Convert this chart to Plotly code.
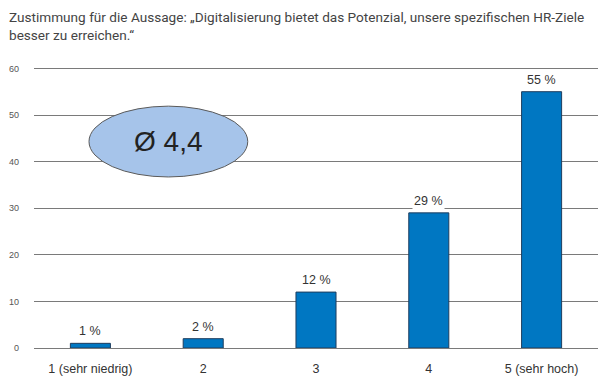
import plotly.graph_objects as go

categories = ["1 (sehr niedrig)", "2", "3", "4", "5 (sehr hoch)"]
values = [1, 2, 12, 29, 55]
value_labels = ["1 %", "2 %", "12 %", "29 %", "55 %"]
y_ticks = [0, 10, 20, 30, 40, 50, 60]
title_text = "Zustimmung für die Aussage: „Digitalisierung bietet das Potenzial, unsere spezifischen HR-Ziele<br>besser zu erreichen.“"
avg_text = "Ø 4,4"

fig = go.Figure()
fig.add_trace(go.Bar(
    x=categories, y=values, width=0.355,
    marker=dict(color="#0077C2", line=dict(color="#1E3D5E", width=1)),
    hoverinfo="skip",
))

for i, (v, t) in enumerate(zip(values, value_labels)):
    fig.add_annotation(x=i, y=v, text=t, showarrow=False, yanchor="bottom", yshift=3,
                       bgcolor="white", borderpad=1,
                       font=dict(family="Liberation Sans, Arial", size=12.5, color="#333"))

fig.add_shape(type="circle", xref="paper", yref="y", x0=0.0975, x1=0.379, y0=36.7, y1=51.9,
              fillcolor="#A6C4EA", line=dict(color="#5a5a5a", width=1), layer="above")
fig.add_annotation(xref="paper", yref="y", x=(0.0975 + 0.379) / 2, y=44.3, text=avg_text,
                   xanchor="center", yanchor="middle",
                   showarrow=False, font=dict(family="Liberation Sans, Arial", size=28, color="#222"))

fig.add_annotation(xref="paper", yref="paper", x=-0.048, y=1.215, xanchor="left", yanchor="top",
                   align="left", showarrow=False, text=title_text,
                   font=dict(family="Roboto, Liberation Sans", size=13.6, color="#444"))

fig.update_layout(
    width=605, height=388,
    margin=dict(l=34, r=7, t=67, b=40),
    paper_bgcolor="white", plot_bgcolor="white",
    showlegend=False,
    xaxis=dict(type="category", showgrid=False, showline=False, ticks="", ticklabelstandoff=11,
               automargin=False,
               tickfont=dict(family="Liberation Sans, Arial", size=12.5, color="#333")),
    yaxis=dict(range=[0, 60.3], tickvals=y_ticks, showgrid=True, gridcolor="#7a7a7a", gridwidth=1,
               zeroline=True, zerolinecolor="#7a7a7a", zerolinewidth=1,
               showline=False, ticks="", ticklabelstandoff=14, automargin=False,
               tickfont=dict(family="Liberation Sans, Arial", size=9, color="#555")),
)

fig.write_html("out.html", config={"displayModeBar": False},
               post_script="document.body.style.margin='0';document.body.style.overflow='hidden';")
